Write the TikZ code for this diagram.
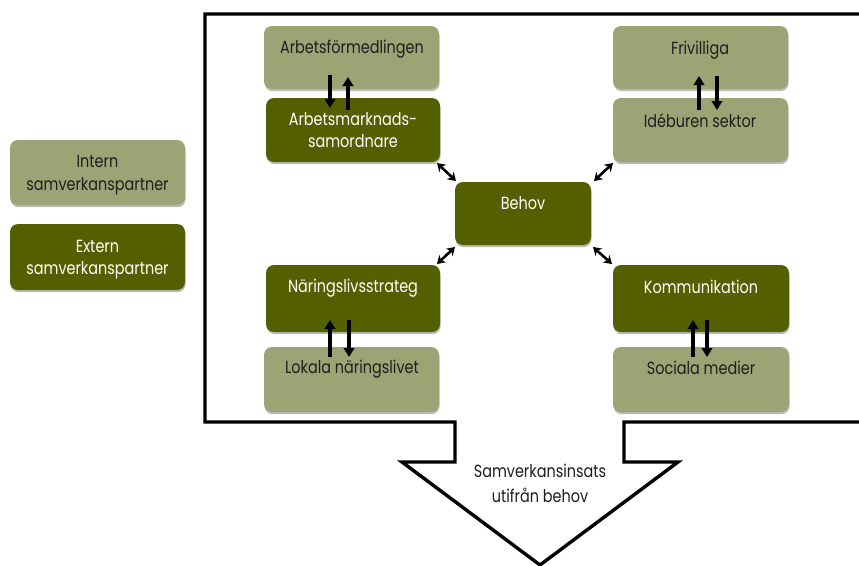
\documentclass[tikz,border=0pt]{standalone}
\usepackage{fontspec}
\setmainfont{Poppins}[FakeStretch=0.82]
\usetikzlibrary{arrows.meta,shadows,calc}
\definecolor{lightol}{HTML}{9EA375}
\definecolor{darkol}{HTML}{546000}
\definecolor{txtdark}{HTML}{1E1E1E}
\begin{document}
\begin{tikzpicture}[x=1pt,y=-1pt,
  box/.style={rounded corners=8pt, inner sep=0pt, outer sep=0pt, anchor=north west,
    drop shadow={shadow xshift=0.6pt, shadow yshift=-2.2pt, opacity=0.45, fill=black!60}},
  lbox/.style={box, fill=lightol},
  dbox/.style={box, fill=darkol},
  ltxt/.style={text=txtdark, font=\fontsize{17.6}{20}\selectfont, anchor=base, inner sep=0pt},
  dtxt/.style={ltxt, text=white},
  varr/.style={line width=3.8pt, -{Triangle[width=10.5pt,length=9pt]}},
  darr/.style={line width=2.6pt, {Stealth[width=10pt,length=8pt]}-{Stealth[width=10pt,length=8pt]}},
  frame/.style={line width=3.4pt, black, line join=miter}
]
\useasboundingbox (0,0) rectangle (859,565);
\fill[white] (0,0) rectangle (859,565);

% frame with arrow
\draw[frame] (875,14) -- (205,14) -- (205,422) -- (455,422) -- (455,462) -- (402,462)
  -- (540,565) -- (678,462) -- (624,462) -- (624,422) -- (875,422);

% boxes
\node[lbox, minimum width=175pt, minimum height=63pt] (af) at (264,26) {};
\node[dbox, minimum width=174pt, minimum height=64pt] (am) at (266,98) {};
\node[lbox, minimum width=175pt, minimum height=63pt] (fr) at (613,26) {};
\node[lbox, minimum width=175pt, minimum height=64pt] (id) at (613,98) {};
\node[dbox, minimum width=136pt, minimum height=63pt] (be) at (455,182) {};
\node[dbox, minimum width=174pt, minimum height=67pt] (ns) at (266,265) {};
\node[lbox, minimum width=175pt, minimum height=65pt] (ln) at (264,347) {};
\node[dbox, minimum width=176pt, minimum height=67pt] (ko) at (613,265) {};
\node[lbox, minimum width=176pt, minimum height=65pt] (sm) at (613,347) {};
\node[lbox, minimum width=175pt, minimum height=65pt] (in) at (10,140) {};
\node[dbox, minimum width=175pt, minimum height=66pt] (ex) at (10,224) {};

% texts
\node[ltxt] (taf) at (352,53) {Arbetsförmedlingen};
\node[dtxt] (tam1) at (353,125) {Arbetsmarknads-};
\node[dtxt] (tam2) at (353,147) {samordnare};
\node[ltxt] (tfr) at (700,54) {Frivilliga};
\node[ltxt] (tid) at (700,127) {Idéburen sektor};
\node[dtxt] (tbe) at (523,209) {Behov};
\node[dtxt] (tns) at (353,292) {Näringslivsstrateg};
\node[ltxt] (tln) at (352,373) {Lokala näringslivet};
\node[dtxt] (tko) at (701,293) {Kommunikation};
\node[ltxt] (tsm) at (701,374) {Sociala medier};
\node[ltxt] (tin1) at (97.5,167) {Intern};
\node[ltxt] (tin2) at (97.5,190) {samverkanspartner};
\node[dtxt] (tex1) at (97.5,252) {Extern};
\node[dtxt] (tex2) at (97.5,274) {samverkanspartner};
\node[ltxt] (ts1) at (540,477) {Samverkansinsats};
\node[ltxt] (ts2) at (540,502) {utifrån behov};

% vertical arrows
\draw[varr] ($(af.south west)+(66,-14)$) -- ($(am.north west)+(64,10)$);
\draw[varr] ($(am.north west)+(82,12)$) -- ($(af.south west)+(84,-12)$);
\draw[varr] ($(id.north west)+(86,12)$) -- ($(fr.south west)+(86,-13)$);
\draw[varr] ($(fr.south west)+(104,-13)$) -- ($(id.north west)+(104,12)$);
\draw[varr] ($(ln.north west)+(66,10)$) -- ($(ns.south west)+(64,-12)$);
\draw[varr] ($(ns.south west)+(83,-12)$) -- ($(ln.north west)+(85,10)$);
\draw[varr] ($(sm.north west)+(80,10)$) -- ($(ko.south west)+(80,-12)$);
\draw[varr] ($(ko.south west)+(94,-12)$) -- ($(sm.north west)+(94,10)$);

% diagonal double arrows
\draw[darr] ($(am.south east)+(-3,1)$) -- ($(be.north west)+(1,-1)$);
\draw[darr] ($(be.north east)+(3,-1)$) -- ($(id.south west)+(0,1)$);
\draw[darr] ($(be.south west)+(0,2)$) -- ($(ns.north east)+(-3,-1)$);
\draw[darr] ($(be.south east)+(2,2)$) -- ($(ko.north west)+(-1,-1)$);
\end{tikzpicture}
\end{document}
